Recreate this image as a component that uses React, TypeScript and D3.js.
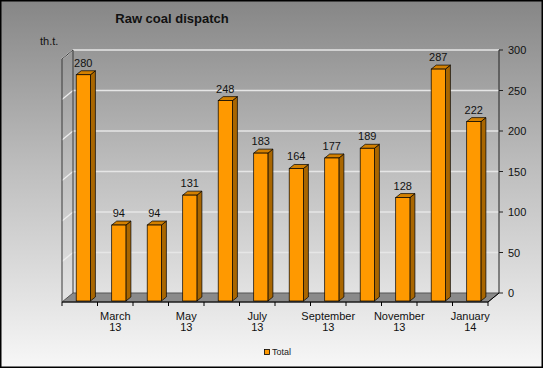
import React, { useEffect, useRef } from "react";
import * as d3 from "d3";

const months = [
  "February 13",
  "March 13",
  "April 13",
  "May 13",
  "June 13",
  "July 13",
  "August 13",
  "September 13",
  "October 13",
  "November 13",
  "December 13",
  "January 14",
];
const totals = [280, 94, 94, 131, 248, 183, 164, 177, 189, 128, 287, 222];
const valueTicks = [0, 50, 100, 150, 200, 250, 300];
const seriesName = "Total";

export default function App() {
  const svgRef = useRef<SVGSVGElement | null>(null);

  useEffect(() => {
    if (!svgRef.current) return;
    const svg = d3.select(svgRef.current);
    svg.selectAll("*").remove();

    const W = 543;
    const H = 368;
    const font = "Arial, 'Liberation Sans', sans-serif";
    // 3D depth offset of the floor / walls
    const dx = 11;
    const dy = -9;
    // bar depth
    const bdx = 5;
    const bdy = -4;

    const defs = svg.append("defs");
    const grad = defs
      .append("linearGradient")
      .attr("id", "bg")
      .attr("x1", 0)
      .attr("y1", 0)
      .attr("x2", 0)
      .attr("y2", 1);
    grad.append("stop").attr("offset", "0%").attr("stop-color", "#868686");
    grad.append("stop").attr("offset", "45%").attr("stop-color", "#bdbdbd");
    grad.append("stop").attr("offset", "100%").attr("stop-color", "#f7f7f7");

    svg
      .append("rect")
      .attr("x", 0.75)
      .attr("y", 0.75)
      .attr("width", W - 1.5)
      .attr("height", H - 1.5)
      .attr("fill", "url(#bg)")
      .attr("stroke", "#000")
      .attr("stroke-width", 1.5);

    const x = d3.scaleBand().domain(months).range([62, 488]);
    const y = d3.scaleLinear().domain([0, 300]).range([302, 59]);
    const yBar = d3.scaleLinear().domain([0, 300]).range([301, 58.6]);

    // floor
    const floorY = y(0);
    svg
      .append("path")
      .attr(
        "d",
        `M62,${floorY}L488,${floorY}L${488 + dx},${floorY + dy}L${62 + dx},${floorY + dy}Z`
      )
      .attr("fill", "#8a8a8a")
      .attr("stroke", "#555")
      .attr("stroke-width", 1);
    svg
      .append("line")
      .attr("x1", 62)
      .attr("x2", 488)
      .attr("y1", floorY)
      .attr("y2", floorY)
      .attr("stroke", "#000");
    svg
      .append("line")
      .attr("x1", 488)
      .attr("x2", 488 + dx)
      .attr("y1", floorY)
      .attr("y2", floorY + dy)
      .attr("stroke", "#000");

    // gridlines on back wall + left wall
    valueTicks
      .filter((v) => v > 0)
      .forEach((v) => {
        const yb = y(v) + dy;
        svg
          .append("line")
          .attr("x1", 62 + dx)
          .attr("x2", 488 + dx)
          .attr("y1", yb)
          .attr("y2", yb)
          .attr("stroke", "#e6e6e6")
          .attr("stroke-width", 1.3);
        svg
          .append("line")
          .attr("x1", 62)
          .attr("x2", 62 + dx)
          .attr("y1", yb - dy)
          .attr("y2", yb)
          .attr("stroke", "#eeeeee")
          .attr("stroke-width", 1.3);
      });

    // left wall outline
    svg
      .append("path")
      .attr(
        "d",
        `M62,${floorY}L62,${y(300)}L${62 + dx},${y(300) + dy}L${62 + dx},${floorY + dy}`
      )
      .attr("fill", "none")
      .attr("stroke", "#3a3a3a")
      .attr("stroke-width", 1);

    // value axis on the right
    svg
      .append("line")
      .attr("x1", 488 + dx)
      .attr("x2", 488 + dx)
      .attr("y1", y(0) + dy)
      .attr("y2", y(300) + dy)
      .attr("stroke", "#222");
    valueTicks.forEach((v) => {
      const yy = y(v) + dy;
      svg
        .append("line")
        .attr("x1", 488 + dx)
        .attr("x2", 488 + dx + 4)
        .attr("y1", yy)
        .attr("y2", yy)
        .attr("stroke", "#222");
      svg
        .append("text")
        .attr("x", 508)
        .attr("y", yy + 4)
        .attr("font-family", font)
        .attr("font-size", 11)
        .attr("fill", "#111")
        .text(v);
    });

    // category ticks
    const bw = x.bandwidth();
    months.concat([""]).forEach((m, i) => {
      const xx = 62 + i * bw;
      svg
        .append("line")
        .attr("x1", xx)
        .attr("x2", xx)
        .attr("y1", floorY)
        .attr("y2", floorY + 4)
        .attr("stroke", "#000");
    });

    // category labels (every second)
    months.forEach((m, i) => {
      if (i % 2 === 0) return;
      const [mon, yr] = m.split(" ");
      const t = svg
        .append("text")
        .attr("x", x(m)! + bw / 2)
        .attr("y", 319.5)
        .attr("text-anchor", "middle")
        .attr("font-family", font)
        .attr("font-size", 11)
        .attr("fill", "#111");
      t.append("tspan").attr("x", x(m)! + bw / 2).text(mon);
      t.append("tspan").attr("x", x(m)! + bw / 2).attr("dy", 11.5).text(yr);
    });

    // bars
    const bars = svg
      .selectAll("g.bar")
      .data(totals)
      .enter()
      .append("g")
      .attr("class", "bar");
    bars.each(function (v, i) {
      const g = d3.select(this);
      const x0 = x(months[i])! + bw * 0.4;
      const x1 = x0 + bw * 0.4;
      const yt = yBar(v);
      const yb = yBar(0);
      g.append("path")
        .attr("d", `M${x1},${yb}L${x1 + bdx},${yb + bdy}L${x1 + bdx},${yt + bdy}L${x1},${yt}Z`)
        .attr("fill", "#a96600")
        .attr("stroke", "#000")
        .attr("stroke-width", 0.7);
      g.append("path")
        .attr("d", `M${x0},${yt}L${x1},${yt}L${x1 + bdx},${yt + bdy}L${x0 + bdx},${yt + bdy}Z`)
        .attr("fill", "#d38000")
        .attr("stroke", "#000")
        .attr("stroke-width", 0.7);
      g.append("rect")
        .attr("x", x0)
        .attr("y", yt)
        .attr("width", x1 - x0)
        .attr("height", yb - yt)
        .attr("fill", "#ff9900")
        .attr("stroke", "#000")
        .attr("stroke-width", 0.7);
      g.append("text")
        .attr("x", (x0 + x1) / 2)
        .attr("y", yt - 8)
        .attr("text-anchor", "middle")
        .attr("font-family", font)
        .attr("font-size", 11)
        .attr("fill", "#111")
        .text(v);
    });

    // title + unit
    svg
      .append("text")
      .attr("x", 172)
      .attr("y", 23)
      .attr("text-anchor", "middle")
      .attr("font-family", font)
      .attr("font-size", 13)
      .attr("font-weight", "bold")
      .attr("fill", "#111")
      .text("Raw coal dispatch");
    svg
      .append("text")
      .attr("x", 40)
      .attr("y", 45)
      .attr("font-family", font)
      .attr("font-size", 11)
      .attr("fill", "#111")
      .text("th.t.");

    // legend
    svg
      .append("rect")
      .attr("x", 264.5)
      .attr("y", 349.5)
      .attr("width", 5)
      .attr("height", 5)
      .attr("fill", "#ff9900")
      .attr("stroke", "#000")
      .attr("stroke-width", 0.8);
    svg
      .append("text")
      .attr("x", 272)
      .attr("y", 355)
      .attr("font-family", font)
      .attr("font-size", 9)
      .attr("fill", "#222")
      .text(seriesName);
  }, []);

  return (
    <svg
      ref={svgRef}
      width={543}
      height={368}
      style={{ position: "fixed", left: 0, top: 0, display: "block" }}
    />
  );
}
